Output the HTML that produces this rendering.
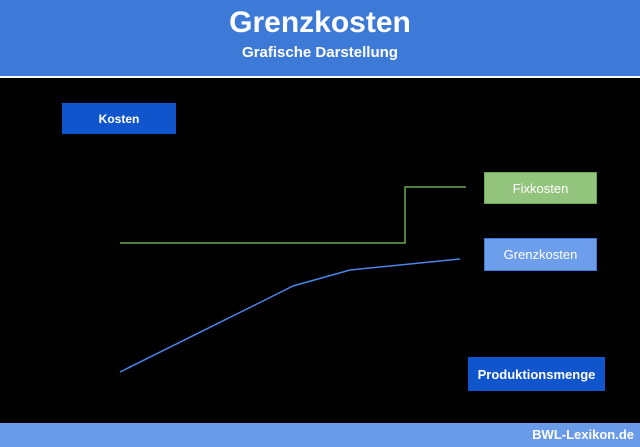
<!DOCTYPE html>
<html><head><meta charset="utf-8"><style>
body{margin:0;width:640px;height:447px;background:#000;position:relative;overflow:hidden;font-family:"Liberation Sans",sans-serif}
.hdr{position:absolute;left:0;top:0;width:640px;height:76px;background:#3d7ad8;border-bottom:2px solid #fff;color:#fff;text-align:center}
.t1{font-size:30px;font-weight:bold;position:absolute;top:6px;width:100%}
.t2{font-size:15px;font-weight:bold;position:absolute;top:44px;width:100%}
.box{position:absolute;color:#fff;display:flex;align-items:center;justify-content:center;font-size:13px;box-sizing:border-box}
.ftr{position:absolute;left:0;top:423px;width:640px;height:24px;background:#6a9be8;color:#fff;font-weight:bold;font-size:13px;text-align:right;line-height:24px}
</style></head><body>
<div class="hdr"><div class="t1">Grenzkosten</div><div class="t2">Grafische Darstellung</div></div>
<div class="box" style="left:62px;top:103px;width:114px;height:31px;background:#1155cc;font-weight:bold;font-size:12px">Kosten</div>
<div class="box" style="left:484px;top:172px;width:113px;height:32px;background:#93c47d;border:1px solid #6aa84f">Fixkosten</div>
<div class="box" style="left:484px;top:238px;width:113px;height:33px;background:#6d9eeb;border:1px solid #3c78d8">Grenzkosten</div>
<div class="box" style="left:468px;top:357px;width:137px;height:34px;background:#1155cc;font-weight:bold">Produktionsmenge</div>
<svg style="position:absolute;left:0;top:0" width="640" height="447">
<polyline points="120,243 405,243 405,187 466,187" fill="none" stroke="#6aa84f" stroke-width="1.5"/>
<polyline points="120,372 265,300 293,286 350,270 460,259" fill="none" stroke="#4a86e8" stroke-width="1.5"/>
</svg>
<div class="ftr"><span style="padding-right:6px">BWL-Lexikon.de</span></div>
</body></html>
